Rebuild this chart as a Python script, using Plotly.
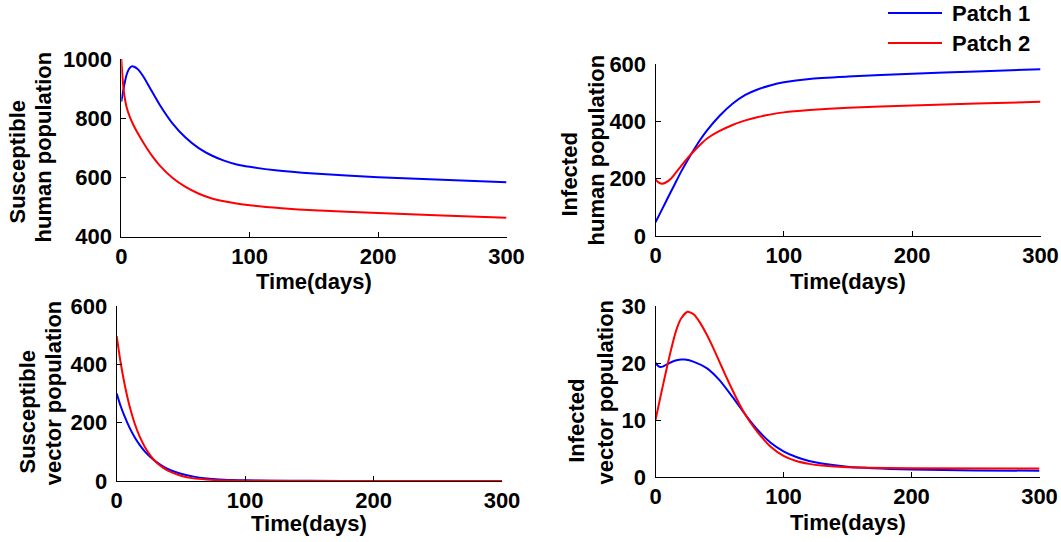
import plotly.graph_objects as go

# ---------------- data ----------------
# Susceptible human population
t_sh1 = [0, 2, 4, 6, 8, 10, 13, 17, 22, 30, 40, 50, 60, 70, 80, 90, 100, 120, 150, 200, 250, 300]
sh1 = [856, 905, 945, 966, 975, 974, 965, 942, 905, 845, 782, 735, 700, 675, 657, 644, 636, 624, 613, 601, 592, 584]
t_sh2 = [0, 1, 2, 4, 7, 10, 15, 20, 25, 30, 40, 50, 60, 70, 80, 100, 125, 150, 200, 250, 300]
sh2 = [1000, 935, 890, 840, 800, 772, 733, 698, 667, 640, 598, 568, 546, 530, 520, 506, 496, 489, 480, 472, 464]

# Infected human population
t_ih1 = [0, 5, 10, 15, 20, 25, 30, 35, 40, 50, 60, 70, 80, 90, 100, 120, 150, 200, 250, 300]
ih1 = [48, 92, 137, 181, 225, 265, 302, 337, 368, 420, 462, 493, 513, 527, 537, 549, 557, 567, 575, 583]
t_ih2 = [0, 2, 5, 8, 12, 16, 20, 25, 30, 35, 40, 50, 60, 70, 80, 90, 100, 120, 150, 200, 250, 300]
ih2 = [198, 188, 183, 187, 200, 222, 245, 272, 297, 320, 340, 367, 388, 404, 416, 425, 432, 440, 448, 456, 463, 469]

# Susceptible vector population
t_sv = [0, 3, 6, 10, 14, 18, 22, 26, 30, 36, 42, 50, 60, 70, 80, 90, 100, 120, 150, 200, 300]
sv1 = [300, 258, 223, 183, 150, 123, 101, 83, 68, 50, 37, 25, 15, 9, 5.5, 3.5, 2.2, 1, 0.5, 0.3, 0.2]
sv2 = [497, 408, 335, 257, 197, 151, 116, 89, 68, 46, 31, 18, 9, 5, 2.5, 1.5, 1, 0.5, 0.3, 0.2, 0.1]

# Infected vector population
t_iv1 = [0, 2, 4, 6, 10, 15, 20, 23, 30, 40, 50, 60, 70, 80, 90, 100, 110, 120, 130, 150, 200, 250, 300]
iv1 = [20, 19.5, 19.3, 19.4, 19.9, 20.4, 20.6, 20.6, 20.2, 19.1, 17.0, 14.1, 11.0, 8.2, 6.0, 4.5, 3.5, 2.8, 2.35, 1.8, 1.3, 1.15, 1.1]
t_iv2 = [0, 4, 8, 12, 16, 20, 25, 30, 35, 40, 45, 50, 55, 60, 66, 70, 74, 80, 90, 100, 110, 120, 130, 150, 200, 300]
iv2 = [10, 14.2, 18.3, 22.2, 25.6, 27.8, 29.0, 28.5, 27.0, 25.0, 22.7, 20.2, 17.7, 15.3, 12.6, 11.0, 9.6, 7.8, 5.3, 3.7, 2.8, 2.3, 2.0, 1.7, 1.55, 1.5]

series_names = ["Patch 1", "Patch 2"]
x_ticks = [0, 100, 200, 300]
y_ticks_sh = [400, 600, 800, 1000]
y_ticks_ih = [0, 200, 400, 600]
y_ticks_sv = [0, 200, 400, 600]
y_ticks_iv = [0, 10, 20, 30]

BLUE = "#0000ff"
RED = "#ff0000"
W, H = 1061, 542
FONT = "Liberation Sans, Arial, Helvetica, sans-serif"

fig = go.Figure()

panels = [
    ("x", "y", t_sh1, sh1, t_sh2, sh2),
    ("x2", "y2", t_ih1, ih1, t_ih2, ih2),
    ("x3", "y3", t_sv, sv1, t_sv, sv2),
    ("x4", "y4", t_iv1, iv1, t_iv2, iv2),
]
for xa, ya, ta, a, tb, b in panels:
    fig.add_trace(go.Scatter(x=ta, y=a, xaxis=xa, yaxis=ya, mode="lines",
                             line=dict(color=BLUE, width=2, shape="spline", smoothing=0.6),
                             name=series_names[0], showlegend=False))
    fig.add_trace(go.Scatter(x=tb, y=b, xaxis=xa, yaxis=ya, mode="lines",
                             line=dict(color=RED, width=2, shape="spline", smoothing=0.6),
                             name=series_names[1], showlegend=False))

def px_x(p):
    return p / W

def px_y(p):
    return 1 - p / H

tickfont = dict(family=FONT, size=22, color="black", weight="bold")

def xax(d0, d1, anchor):
    return dict(domain=[px_x(d0), px_x(d1)], range=[0, 300], anchor=anchor,
                tickvals=x_ticks, ticks="inside", ticklen=5, tickcolor="black",
                showline=True, linecolor="black", linewidth=1, showgrid=False,
                zeroline=False, tickfont=tickfont, fixedrange=True, automargin=False)

def yax(d0, d1, rng, tv, anchor):
    return dict(domain=[px_y(d1), px_y(d0)], range=rng, anchor=anchor,
                tickvals=tv, ticks="inside", ticklen=5, tickcolor="black",
                showline=True, linecolor="black", linewidth=1, showgrid=False,
                zeroline=False, tickfont=tickfont, fixedrange=True,
                ticklabelstandoff=4, automargin=False)

fig.update_layout(
    template="none",
    width=W, height=H, margin=dict(l=0, r=0, t=0, b=0, pad=0), autosize=False,
    paper_bgcolor="white", plot_bgcolor="white", showlegend=False,
    font=dict(family=FONT, size=22, color="black", weight="bold"),
    xaxis=xax(121.3, 506.5, "y"),
    yaxis=yax(59, 236.7, [400, 1000], y_ticks_sh, "x"),
    xaxis2=xax(655.5, 1040.5, "y2"),
    yaxis2=yax(64.3, 236, [0, 600], y_ticks_ih, "x2"),
    xaxis3=xax(116.7, 502, "y3"),
    yaxis3=yax(306, 481, [0, 600], y_ticks_sv, "x3"),
    xaxis4=xax(655.5, 1039.5, "y4"),
    yaxis4=yax(306, 477, [0, 30], y_ticks_iv, "x4"),
)

annfont = dict(family=FONT, size=22, color="black", weight="bold")
annotations = []

def text_at(txt, x, y, angle=0):
    annotations.append(dict(text=txt, x=px_x(x), y=px_y(y), xref="paper", yref="paper",
                            showarrow=False, textangle=angle, xanchor="center",
                            yanchor="middle", font=annfont))

# x axis titles
text_at("Time(days)", 313.9, 282)
text_at("Time(days)", 848, 282)
text_at("Time(days)", 309.3, 523)
text_at("Time(days)", 847.5, 522)
# y axis titles (two lines each)
text_at("Susceptible", 17, 162.5, -90)
text_at("human population", 43, 147.5, -90)
text_at("Infected", 569.5, 175, -90)
text_at("human population", 595.5, 150, -90)
text_at("Susceptible", 27, 412.5, -90)
text_at("vector population", 53, 393.3, -90)
text_at("Infected", 577, 420.8, -90)
text_at("vector population", 605, 392.5, -90)

# legend
shapes = []
for i, (name, col) in enumerate(zip(series_names, [BLUE, RED])):
    yy = 13 + 30 * i
    shapes.append(dict(type="line", xref="paper", yref="paper",
                       x0=px_x(888), x1=px_x(942), y0=px_y(yy), y1=px_y(yy),
                       line=dict(color=col, width=2)))
    annotations.append(dict(text=name, x=px_x(950), y=px_y(yy), xref="paper", yref="paper",
                            showarrow=False, xanchor="left", yanchor="middle", font=annfont))

fig.update_layout(annotations=annotations, shapes=shapes)

fig.write_html("out.html", config={"displayModeBar": False},
               post_script="document.body.style.margin='0px';document.body.style.overflow='hidden';")
